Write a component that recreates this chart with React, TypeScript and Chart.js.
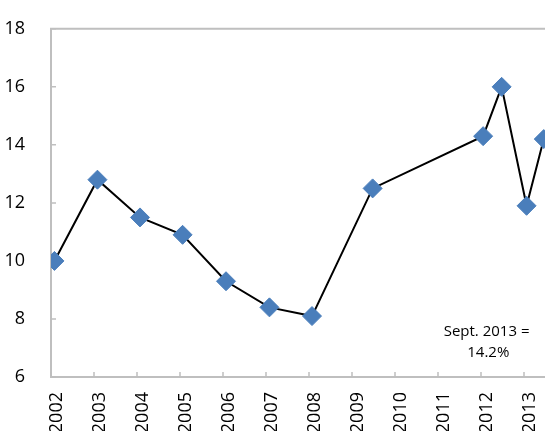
import React, { useEffect, useRef } from 'react';
import { Chart, registerables } from 'chart.js';

Chart.register(...registerables);

const yearLabels = ['2002', '2003', '2004', '2005', '2006', '2007', '2008', '2009', '2010', '2011', '2012', '2013'];
const pointYears = [2002.08, 2003.08, 2004.07, 2005.06, 2006.07, 2007.08, 2008.07, 2009.48, 2012.05, 2012.48, 2013.06, 2013.46];
const rates = [10.0, 12.8, 11.5, 10.9, 9.3, 8.4, 8.1, 12.5, 14.3, 16.0, 11.9, 14.2];
const yTicks = [6, 8, 10, 12, 14, 16, 18];
const noteLines = ['Sept. 2013 =', '14.2%'];

export default function App() {
  const ref = useRef<HTMLCanvasElement>(null);

  useEffect(() => {
    if (!ref.current) return;
    const axisPlugin = {
      id: 'axisFrame',
      beforeDatasetsDraw(chart: any) {
        const { ctx, chartArea, scales } = chart;
        const x = scales.x;
        const y = scales.y;
        const left = chartArea.left;
        const bottom = y.getPixelForValue(6);
        const top = y.getPixelForValue(18);
        const right = chart.width;
        ctx.save();
        ctx.strokeStyle = '#BFBFBF';
        ctx.lineWidth = 2;
        ctx.beginPath();
        ctx.moveTo(left, top);
        ctx.lineTo(right, top);
        ctx.moveTo(left, top - 1);
        ctx.lineTo(left, bottom + 1);
        ctx.moveTo(left, bottom);
        ctx.lineTo(right, bottom);
        ctx.stroke();
        ctx.lineWidth = 1.5;
        ctx.beginPath();
        yTicks.forEach((v) => {
          const py = y.getPixelForValue(v);
          ctx.moveTo(left, py);
          ctx.lineTo(left + 5, py);
        });
        yearLabels.forEach((l) => {
          const px = x.getPixelForValue(Number(l));
          ctx.moveTo(px, bottom);
          ctx.lineTo(px, bottom - 5);
        });
        ctx.stroke();
        ctx.fillStyle = '#000';
        ctx.font = '15px "Open Sans"';
        ctx.textAlign = 'center';
        ctx.textBaseline = 'middle';
        ctx.fillText(noteLines[0], x.getPixelForValue(2012.13), y.getPixelForValue(7.56));
        ctx.fillText(noteLines[1], x.getPixelForValue(2012.17), y.getPixelForValue(6.85));
        ctx.restore();
      },
    };

    const chart = new Chart(ref.current, {
      type: 'line',
      data: {
        datasets: [
          {
            data: pointYears.map((yr, i) => ({ x: yr, y: rates[i] })),
            borderColor: '#000000',
            borderWidth: 2,
            tension: 0,
            pointStyle: 'rectRot',
            pointRadius: 9.5,
            pointBackgroundColor: '#4A7EBB',
            pointBorderColor: '#4A7EBB',
            pointBorderWidth: 1,
          },
        ],
      },
      options: {
        animation: false,
        responsive: false,
        layout: { padding: { top: 23, right: 33, left: 0, bottom: 0 } },
        plugins: { legend: { display: false }, tooltip: { enabled: false } },
        scales: {
          x: {
            type: 'linear',
            min: 2002,
            max: 2014,
            grid: { display: false },
            border: { display: false },
            afterFit: (s: any) => {
              s.height = 54;
            },
            ticks: {
              stepSize: 1,
              autoSkip: false,
              minRotation: 90,
              maxRotation: 90,
              padding: 7,
              labelOffset: 6,
              color: '#000',
              font: { family: '"Open Sans"', size: 18 },
              callback: (v: any) => {
                const i = Math.round(Number(v) - 2002);
                return yearLabels[i] ?? '';
              },
            },
          },
          y: {
            type: 'linear',
            min: 6,
            max: 18,
            grid: { display: false },
            border: { display: false },
            afterFit: (s: any) => {
              s.width = 51;
            },
            ticks: {
              stepSize: 2,
              padding: 18,
              color: '#000',
              font: { family: '"Open Sans"', size: 18 },
            },
          },
        },
      },
      plugins: [axisPlugin],
    });
    return () => chart.destroy();
  }, []);

  return (
    <div
      style={{
        position: 'absolute',
        left: 0,
        top: 0,
        width: 545,
        height: 431,
        overflow: 'hidden',
        background: '#fff',
      }}
    >
      <canvas ref={ref} width={600} height={431} style={{ display: 'block', width: 600, height: 431 }} />
    </div>
  );
}
